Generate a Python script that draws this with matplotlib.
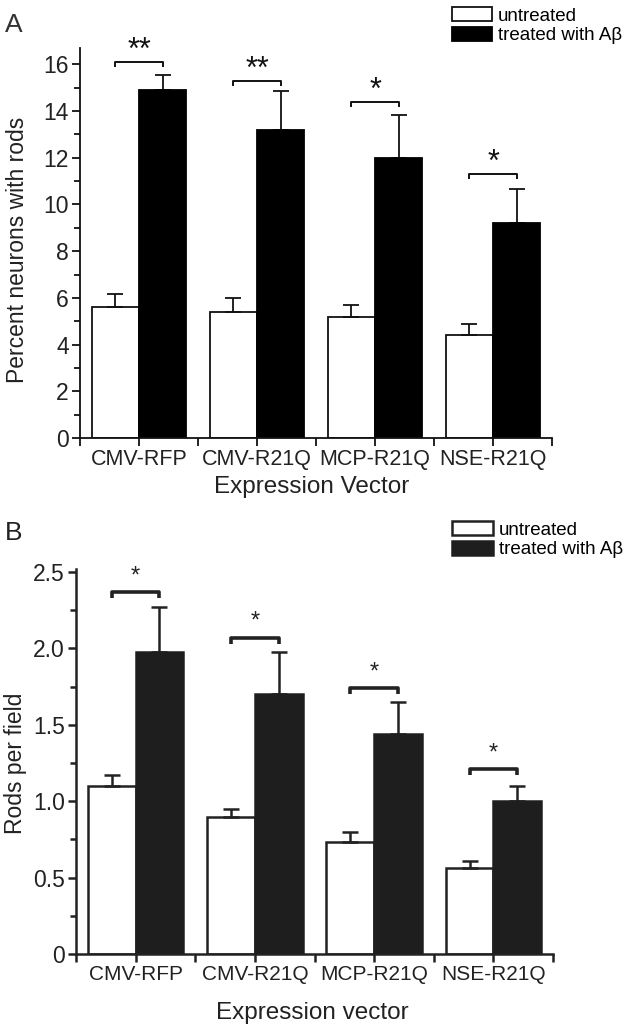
import numpy as np
import matplotlib
matplotlib.use('Agg')
import matplotlib.pyplot as plt
from matplotlib.ticker import MultipleLocator, AutoMinorLocator

plt.rcParams['font.family'] = ['Liberation Sans', 'DejaVu Sans']

groups = ['CMV-RFP', 'CMV-R21Q', 'MCP-R21Q', 'NSE-R21Q']
legend_labels = ['untreated', 'treated with A\u03b2']

# panel A: percent neurons with rods
a_untreated = [5.6, 5.4, 5.2, 4.4]
a_untreated_err = [0.55, 0.6, 0.5, 0.5]
a_treated = [14.9, 13.2, 12.0, 9.2]
a_treated_err = [0.65, 1.65, 1.85, 1.45]
a_sig = ['**', '**', '*', '*']
a_bracket = [16.1, 15.3, 14.4, 11.3]

# panel B: rods per field
b_untreated = [1.10, 0.90, 0.73, 0.56]
b_untreated_err = [0.07, 0.05, 0.07, 0.05]
b_treated = [1.98, 1.70, 1.44, 1.00]
b_treated_err = [0.29, 0.28, 0.21, 0.10]
b_sig = ['*', '*', '*', '*']
b_bracket = [2.37, 2.07, 1.74, 1.21]

W, H = 629, 1033
fig = plt.figure(figsize=(W / 100, H / 100), dpi=100)


def draw_panel(ax, untreated, u_err, treated, t_err, sig, bracket, dark, axis_color,
               lw, bracket_lw, drop, star_size, star_weight, star_offset,
               xtick_size, ytick_size):
    centers = np.arange(len(groups)) * 2 + 1
    n = len(groups)
    bw = ax.bar(centers - 0.4, untreated, width=0.8, color='white', edgecolor=axis_color,
                linewidth=lw, zorder=2)
    bb = ax.bar(centers + 0.4, treated, width=0.8, color=dark, edgecolor=dark,
                linewidth=lw, zorder=2)
    ax.errorbar(centers - 0.4, untreated, yerr=[np.zeros(n), u_err], fmt='none',
                ecolor=axis_color, elinewidth=lw, capsize=6, capthick=lw, zorder=3)
    ax.errorbar(centers + 0.4, treated, yerr=[np.zeros(n), t_err], fmt='none',
                ecolor=axis_color, elinewidth=lw, capsize=6, capthick=lw, zorder=1)
    for c, y, s in zip(centers, bracket, sig):
        ax.plot([c - 0.4, c - 0.4, c + 0.4, c + 0.4], [y - drop, y, y, y - drop],
                color=axis_color, lw=bracket_lw, solid_capstyle='butt', clip_on=False)
        ax.annotate(s, (c, y), xytext=(0, star_offset), textcoords='offset points',
                    ha='center', va='baseline', fontsize=star_size, fontweight=star_weight,
                    color=axis_color, annotation_clip=False)
    ax.set_xlim(0, 8)
    ax.set_xticks(np.arange(0, 9))
    ax.set_xticklabels(['' if i % 2 == 0 else groups[i // 2] for i in range(9)])
    for side in ['top', 'right']:
        ax.spines[side].set_visible(False)
    for side in ['left', 'bottom']:
        ax.spines[side].set_linewidth(lw)
        ax.spines[side].set_color(axis_color)
    ax.yaxis.set_minor_locator(AutoMinorLocator(2))
    ax.tick_params(which='major', direction='out', length=6, width=lw, color=axis_color,
                   labelcolor='#222222', pad=2)
    ax.tick_params(which='minor', direction='out', length=4, width=lw, color=axis_color)
    ax.tick_params(axis='x', labelsize=xtick_size)
    ax.tick_params(axis='y', labelsize=ytick_size)
    return bw, bb


# ---- panel A ----
axA = fig.add_axes([80 / W, 1 - 438 / H, 472 / W, 390 / H])
axA.set_ylim(0, 16.7)
axA.yaxis.set_major_locator(MultipleLocator(2))
hA = draw_panel(axA, a_untreated, a_untreated_err, a_treated, a_treated_err, a_sig,
                a_bracket, '#000000', '#111111', 1.3, 1.4, 0.22, 22, 'normal', 2,
                15.5, 16.5)
fig.text(18 / W, 1 - 250 / H, 'Percent neurons with rods', rotation=90, ha='center',
         va='center', fontsize=16.5, color='#222222')
fig.text(312 / W, 1 - 487 / H, 'Expression Vector', ha='center', va='center',
         fontsize=17.5, color='#222222')
fig.text(14 / W, 1 - 25 / H, 'A', ha='center', va='center', fontsize=19, color='#333333')
fig.legend(hA, legend_labels, loc='upper left', bbox_to_anchor=(452 / W, 1 - 7 / H),
           frameon=False, fontsize=13.5, handlelength=2.15, handleheight=0.8,
           handletextpad=0.3, labelspacing=0.1, borderpad=0, borderaxespad=0)

# ---- panel B ----
axB = fig.add_axes([76 / W, 1 - 954 / H, 477 / W, 385 / H])
axB.set_ylim(0, 2.52)
axB.set_yticks([0, 0.5, 1.0, 1.5, 2.0, 2.5])
axB.set_yticklabels(['0', '0.5', '1.0', '1.5', '2.0', '2.5'])
hB = draw_panel(axB, b_untreated, b_untreated_err, b_treated, b_treated_err, b_sig,
                b_bracket, '#1e1e1e', '#222222', 1.8, 2.6, 0.04, 17, 'light', 7,
                15, 16.5)
fig.text(16 / W, 1 - 763 / H, 'Rods per field', rotation=90, ha='center',
         va='center', fontsize=16.5, color='#222222')
fig.text(312 / W, 1 - 1013 / H, 'Expression vector', ha='center', va='center',
         fontsize=17.5, color='#222222')
fig.text(14 / W, 1 - 533 / H, 'B', ha='center', va='center', fontsize=19, color='#222222')
fig.legend(hB, legend_labels, loc='upper left', bbox_to_anchor=(452 / W, 1 - 521 / H),
           frameon=False, fontsize=13.5, handlelength=2.2, handleheight=0.8,
           handletextpad=0.3, labelspacing=0.1, borderpad=0, borderaxespad=0)

fig.savefig('out.png', dpi=100)
